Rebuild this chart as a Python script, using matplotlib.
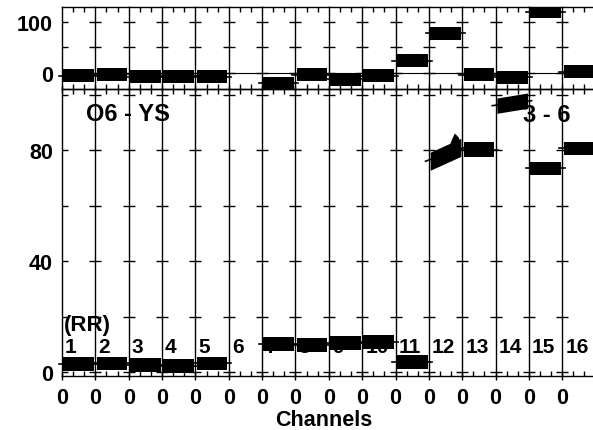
import numpy as np
import matplotlib
matplotlib.use('Agg')
import matplotlib.pyplot as plt

plt.rcParams['font.family'] = ['Liberation Sans', 'DejaVu Sans']
plt.rcParams['font.weight'] = 'bold'

# 数据
channel_labels = [str(i) for i in range(1, 17)]
x_tick_label = '0'
top_level = [-5, -2, -7, -6, -7, np.nan, -20, -3, -12, -5, 24, 78, -3, -8, 120, 3]
top_spread = 25.0
low_start = [3.1, 3.2, 2.7, 2.3, 3.2, np.nan, 10.3, 9.9, 10.7, 10.9, 3.8, 76.0, 80.2, 96.0, 73.4, 80.6]
low_end = [3.1, 3.2, 2.7, 2.3, 3.2, np.nan, 10.3, 9.9, 10.7, 10.9, 3.8, 81.0, 80.2, 97.8, 73.4, 80.6]
low_spread = [5.0, 5.0, 5.0, 5.0, 5.0, np.nan, 5.0, 5.0, 5.0, 5.0, 5.0, 6.5, 5.5, 5.5, 5.0, 5.0]
# 第12通道右端的尖峰
peak_channel = 12
peak_x = [0.58, 0.70, 0.78, 0.90, 0.96]
peak_y = [80.0, 84.0, 86.0, 84.5, 82.0]

top_yticks = [0, 50, 100]
top_yticklabels = ['0', '', '100']
low_yticks = [0, 20, 40, 60, 80, 100]
low_yticklabels = ['0', '', '40', '', '80', '']

W, H = 593, 431
fig = plt.figure(figsize=(W / 100, H / 100), dpi=100)

x0, cw = 62.0, 33.35


def px_box(left, top, width, height):
    return [left / W, 1 - (top + height) / H, width / W, height / H]


def style_axis(ax, i, yticks, yticklabels, ylim):
    ax.patch.set_visible(False)
    ax.set_xlim(0, 1)
    ax.set_ylim(*ylim)
    for s in ax.spines.values():
        s.set_linewidth(1.0)
    ax.spines['right'].set_visible(i == 15)
    ax.set_xticks([0])
    ax.set_xticks([1 / 3, 2 / 3], minor=True)
    ax.tick_params(axis='x', which='major', direction='inout', length=6, width=1,
                   top=False, pad=5, labelsize=15.5)
    ax.tick_params(axis='x', which='minor', direction='in', length=3.5, width=1, top=True)
    ax.set_yticks(yticks)
    if i == 0:
        ax.set_yticklabels(yticklabels)
        ax.tick_params(axis='y', direction='in', length=4.5, width=1, pad=6.5, labelsize=15.5,
                       right=False)
    else:
        ax.tick_params(axis='y', direction='inout', length=8, width=1, labelleft=False,
                       right=False)


for i in range(16):
    ax_t = fig.add_axes(px_box(x0 + i * cw, 7.5, cw, 82.5))
    ax_l = fig.add_axes(px_box(x0 + i * cw, 90, cw, 287))
    style_axis(ax_t, i, top_yticks, top_yticklabels, (-31, 130))
    style_axis(ax_l, i, low_yticks, low_yticklabels, (-1.3, 102))
    ax_t.set_xticklabels([''])
    ax_l.set_xticklabels([x_tick_label])

    # 上图
    ax_t.axhline(0, color='k', lw=0.8, zorder=1)
    v = top_level[i]
    if not np.isnan(v):
        ax_t.fill_between([0.04, 0.96], v - top_spread / 2, v + top_spread / 2,
                          color='k', lw=0, zorder=2)
        ax_t.plot([-0.1, 1.08], [v, v], color='k', lw=1.2, clip_on=False, zorder=2)

    # 下图
    ax_l.text(0.09, 9.2, channel_labels[i], fontsize=15, fontweight='bold',
              va='center', ha='left', zorder=1)
    a, b, s = low_start[i], low_end[i], low_spread[i]
    if not np.isnan(a):
        ax_l.fill_between([0.04, 0.96], [a - s / 2, b - s / 2],
                          [a + s / 2, b + s / 2], color='k', lw=0, zorder=2)
        ax_l.plot([-0.1, 1.08], [a, b], color='k', lw=1.2, clip_on=False, zorder=2)
    if i + 1 == peak_channel:
        ax_l.fill(peak_x, peak_y, color='k', lw=0, zorder=2)

    if i == 0:
        ax_l.text(0.06, 17.4, '(RR)', fontsize=16, fontweight='bold', va='center', ha='left',
                  zorder=1)
        ax_l.text(0.72, 93.3, 'O6 - YS', fontsize=17, fontweight='bold', va='center',
                  ha='left', zorder=1)
    if i == 13:
        ax_l.text(0.81, 93.0, '3 - 6', fontsize=17, fontweight='bold', va='center',
                  ha='left', zorder=1)

fig.text(323.5 / W, 1 - 426.5 / H, 'Channels', fontsize=15.5, fontweight='bold',
         ha='center', va='baseline')

plt.savefig('out.png', dpi=100)
plt.close()
